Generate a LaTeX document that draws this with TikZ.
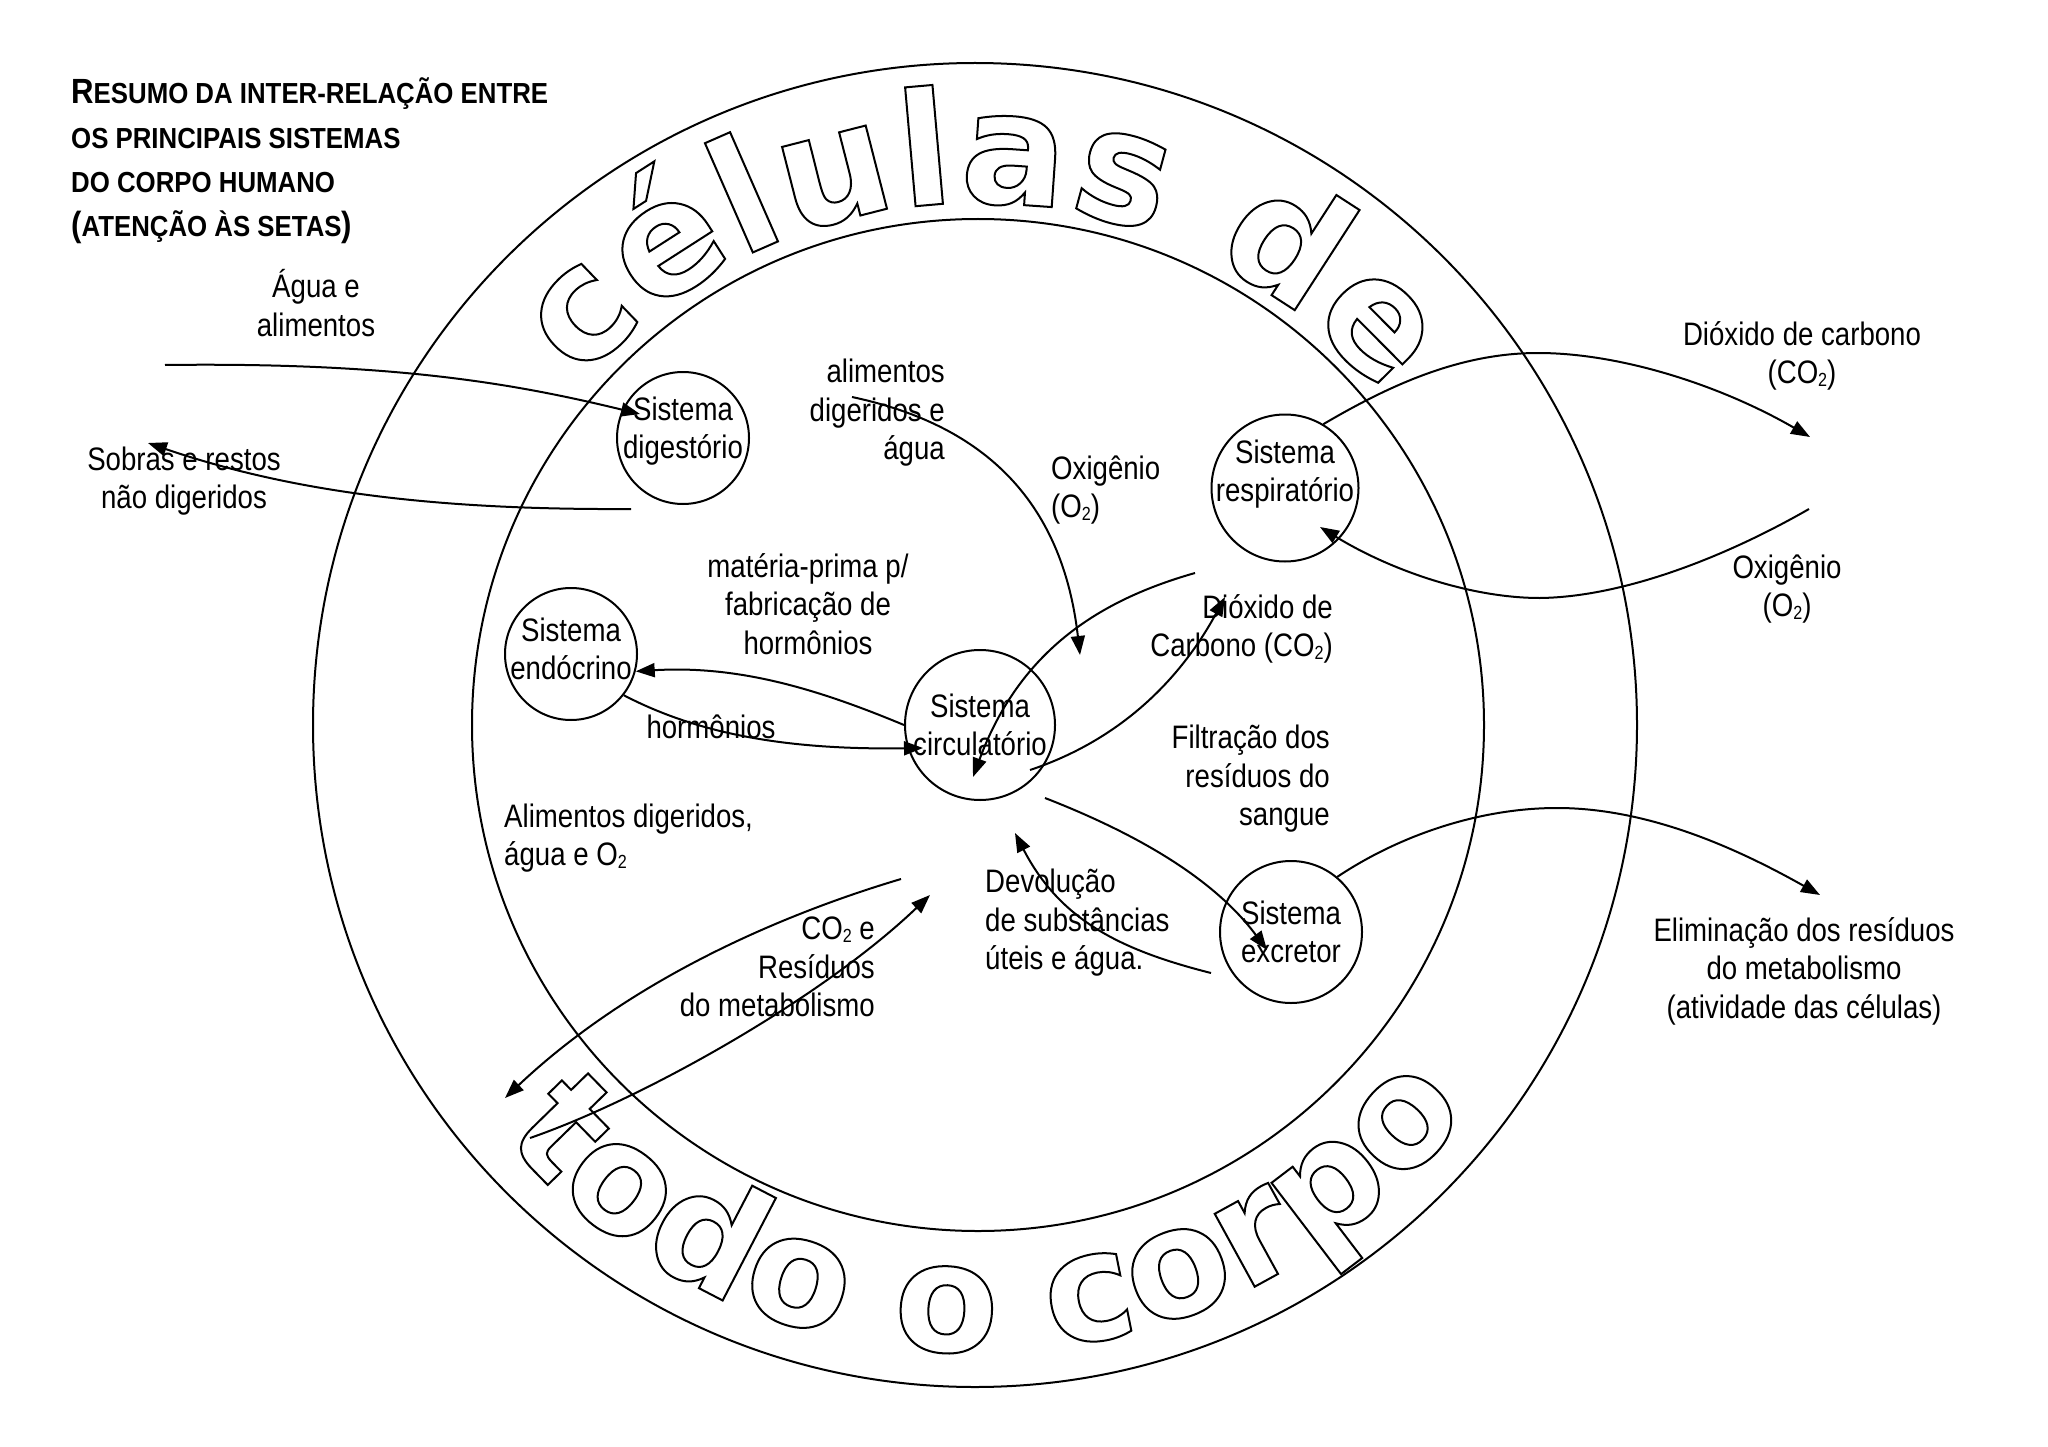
\documentclass[tikz,border=0pt]{standalone}
\usepackage{fontspec}
\setmainfont{Liberation Sans}[FakeStretch=0.85]
\newfontfamily\titlefont{Liberation Sans}[FakeStretch=0.89]
\newfontfamily\ringfont{DejaVu Sans}
\usetikzlibrary{arrows.meta,decorations.text}
\newcommand\tbig{\titlefont\bfseries\fontsize{35}{35}\selectfont}
\newcommand\tsm{\titlefont\bfseries\fontsize{29}{29}\selectfont}
\newcommand\sub[1]{\raisebox{-3pt}{\fontsize{19}{19}\selectfont #1}}
\newcommand\ringfmt{\ringfont\bfseries\fontsize{157}{157}\selectfont\special{pdf:literal direct 1 Tr 2 w}}
\newcommand\ringfmtb{\ringfont\bfseries\fontsize{152}{152}\selectfont\special{pdf:literal direct 1 Tr 2 w}}
\begin{document}
\begin{tikzpicture}[x=1pt,y=-1pt,
  lbl/.style={font=\fontsize{32.5}{38.5}\selectfont, inner sep=0pt, align=center},
  lblr/.style={lbl, align=right, anchor=east},
  lbll/.style={lbl, align=left, anchor=west},
  sys/.style={circle, draw, line width=2pt, inner sep=0pt},
  conn/.style={line width=2pt, -{Triangle[length=19pt,width=14pt]}},
  ring/.style={line width=2pt},
  ttl/.style={anchor=base west, inner sep=0pt}]
\useasboundingbox (0,0) rectangle (2048,1447);
\coordinate (cc) at (975,725);
\coordinate (ci) at (978,725);
\draw[ring] (cc) circle[radius=662];
\draw[ring] (ci) circle[radius=506];

% title
\node[ttl] (t1) at (71,104) {\tbig R\tsm ESUMO DA INTER-RELAÇÃO ENTRE};
\node[ttl] (t2) at (71,149) {\tsm OS PRINCIPAIS SISTEMAS};
\node[ttl] (t3) at (71,193) {\tsm DO CORPO HUMANO};
\node[ttl] (t4) at (71,237) {\tbig(\tsm ATENÇÃO ÀS SETAS\tbig)};

% systems
\node[sys, minimum size=132pt] (dig) at (683,438) {};
\node[sys, minimum size=132pt] (endo) at (571,654) {};
\node[sys, minimum size=150pt] (circ) at (980,725) {};
\node[sys, minimum size=147pt] (resp) at (1285,488) {};
\node[sys, minimum size=142pt] (excr) at (1291,932) {};
\node[lbl] (digT) at (683,431) {Sistema\\digestório};
\node[lbl] (endoT) at (571,649) {Sistema\\endócrino};
\node[lbl] (circT) at (980,725) {Sistema\\circulatório};
\node[lbl] (respT) at (1285,474) {Sistema\\respiratório};
\node[lbl] (excrT) at (1291,932) {Sistema\\excretor};

% labels
\node[lbl] (lagua) at (316,303) {Água e\\alimentos};
\node[lbl] (lsobras) at (184,481) {Sobras e restos\\não digeridos};
\node[lblr] (lalim) at (945,413) {alimentos\\digeridos e\\água};
\node[lbll] (loxi) at (1051,490) {Oxigênio\\(O\sub{2})};
\node[lbl] (lco2out) at (1802,356) {Dióxido de carbono\\(CO\sub{2})};
\node[lbl] (loxiout) at (1787,589) {Oxigênio\\(O\sub{2})};
\node[lbl] (lmat) at (808,604) {matéria-prima p/\\fabricação de\\hormônios};
\node[lblr] (ldiox) at (1333,629) {Dióxido de\\Carbono (CO\sub{2})};
\node[lbl] (lhorm) at (711,727) {hormônios};
\node[lblr] (lfilt) at (1330,779) {Filtração dos\\resíduos do\\sangue};
\node[lbll] (lalim2) at (504,838) {Alimentos digeridos,\\água e O\sub{2}};
\node[lbll] (ldev) at (985,923) {Devolução\\de substâncias\\úteis e água.};
\node[lblr] (lres) at (875,967) {CO\sub{2} e\\Resíduos\\do metabolismo};
\node[lbl] (lelim) at (1804,971) {Eliminação dos resíduos\\do metabolismo\\(atividade das células)};

% free ends
\coordinate (aguaS) at (165,365);
\coordinate (digIn) at (640,414);
\coordinate (sobS) at (631,509);
\coordinate (sobE) at (148,443);
\coordinate (alimS) at (852,397);
\coordinate (alimE) at (1080,655);
\coordinate (hormE) at (923,748);
\coordinate (co2E) at (1810,437);
\coordinate (o2S) at (1809,509);
\coordinate (o2E) at (1320,527);
\coordinate (oxS) at (1195,573);
\coordinate (oxE) at (973,777);
\coordinate (dcS) at (1030,770);
\coordinate (dcE) at (1225,597);
\coordinate (filS) at (1045,798);
\coordinate (filE) at (1267,950);
\coordinate (devS) at (1211,973);
\coordinate (devE) at (1015,833);
\coordinate (elimE) at (1820,895);
\coordinate (alS) at (901,879);
\coordinate (alE) at (505,1098);
\coordinate (resS) at (530,1138);
\coordinate (resE) at (930,895);

% connectors
\draw[conn] (aguaS) .. controls (400,362) and (520,385) .. (digIn);
\draw[conn] (sobS) .. controls (450,510) and (300,495) .. (sobE);
\draw[conn] (alimS) .. controls (960,420) and (1060,480) .. (alimE);
\draw[conn] (circ.west) .. controls (820,690) and (740,665) .. (endo.-15);
\draw[conn] (endo.-38) .. controls (700,735) and (790,750) .. (hormE);
\draw[conn] (resp.59) .. controls (1390,385) and (1460,353) .. (1538,353) .. controls (1620,353) and (1720,385) .. (co2E);
\draw[conn] (o2S) .. controls (1720,560) and (1620,597) .. (1540,598) .. controls (1470,598) and (1390,570) .. (o2E);
\draw[conn] (oxS) .. controls (1100,600) and (1020,650) .. (oxE);
\draw[conn] (dcS) .. controls (1120,740) and (1180,680) .. (dcE);
\draw[conn] (filS) .. controls (1140,835) and (1215,880) .. (filE);
\draw[conn] (devS) .. controls (1120,950) and (1060,920) .. (devE);
\draw[conn] (excr.50) .. controls (1400,835) and (1480,808) .. (1557,808) .. controls (1650,808) and (1740,850) .. (elimE);
\draw[conn] (alS) .. controls (780,915) and (630,980) .. (alE);
\draw[conn] (resS) .. controls (640,1100) and (820,1000) .. (resE);

% ring texts
\path[decorate, decoration={text along path, text={|\ringfmt|células de}, text align={fit to path}}]
  (cc) ++(-139:522) arc[start angle=-139, end angle=-39, radius=522];
\path[decorate, decoration={text along path, text={|\ringfmtb|todo o corpo}, text align={fit to path}}]
  (cc) ++(-221:627) arc[start angle=-221, end angle=-322, radius=627];
\node[inner sep=0pt] (rst) at (0,0) {\special{pdf:literal direct 0 Tr}};
\end{tikzpicture}
\end{document}
